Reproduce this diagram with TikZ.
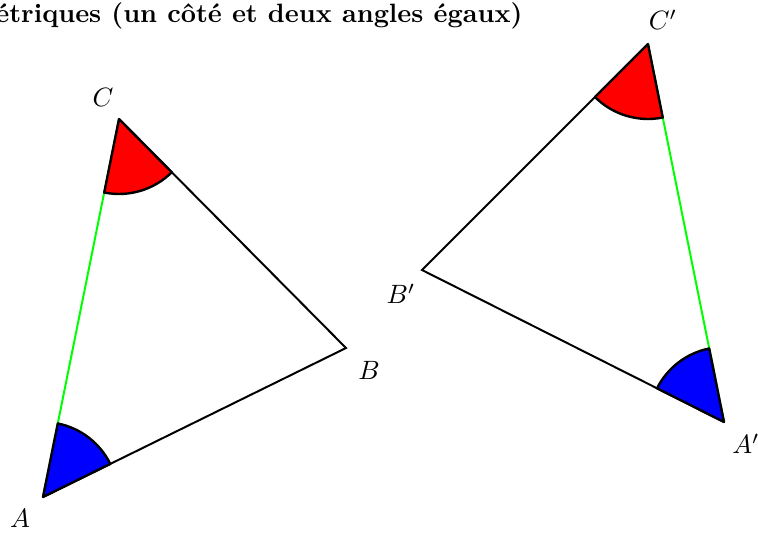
\documentclass[tikz,border=0pt]{standalone}
\usetikzlibrary{calc}
\begin{document}
\begin{tikzpicture}[x=0.3774pt,y=-0.3774pt,
  side/.style={line width=0.75pt,black},
  eqside/.style={line width=0.75pt,green},
  lab/.style={inner sep=0pt},
  sector/.style={line width=0.9pt,draw=black,line join=round}]
\useasboundingbox (0,0) rectangle (758,533);
\node[anchor=base east,inner sep=0pt,font=\bfseries] (title) at (523,22) {étriques (un côté et deux angles égaux)};
% first triangle
\coordinate (A) at (43,497);
\coordinate (B) at (346,348);
\coordinate (C) at (119,119);
% second triangle
\coordinate (A2) at (724,422);
\coordinate (B2) at (422,270);
\coordinate (C2) at (648,44);
\draw[side] (A) -- (B) -- (C);
\draw[eqside] (A) -- (C);
\draw[side] (A2) -- (B2) -- (C2);
\draw[eqside] (A2) -- (C2);
\newcommand{\mysector}[4]{%
  \draw[sector,fill=#4] let \p1=($(#2)-(#1)$), \p2=($(#3)-(#1)$),
    \n1={atan2(\y1,\x1)}, \n2={atan2(\y2,\x2)} in
    (#1) -- ++(\n1:28.3pt) arc[start angle=\n1, end angle=\n2, radius=28.3pt] -- cycle;}
\mysector{A}{B}{C}{blue}
\mysector{C}{A}{B}{red}
\mysector{A2}{B2}{C2}{blue}
\mysector{C2}{B2}{A2}{red}
\node[lab] (lA) at (20,518) {$A$};
\node[lab] (lB) at (369,370) {$B$};
\node[lab] (lC) at (103,97) {$C$};
\node[lab] (lA2) at (746,444) {$A'$};
\node[lab] (lB2) at (401,294) {$B'$};
\node[lab] (lC2) at (663,20) {$C'$};
\end{tikzpicture}
\end{document}
